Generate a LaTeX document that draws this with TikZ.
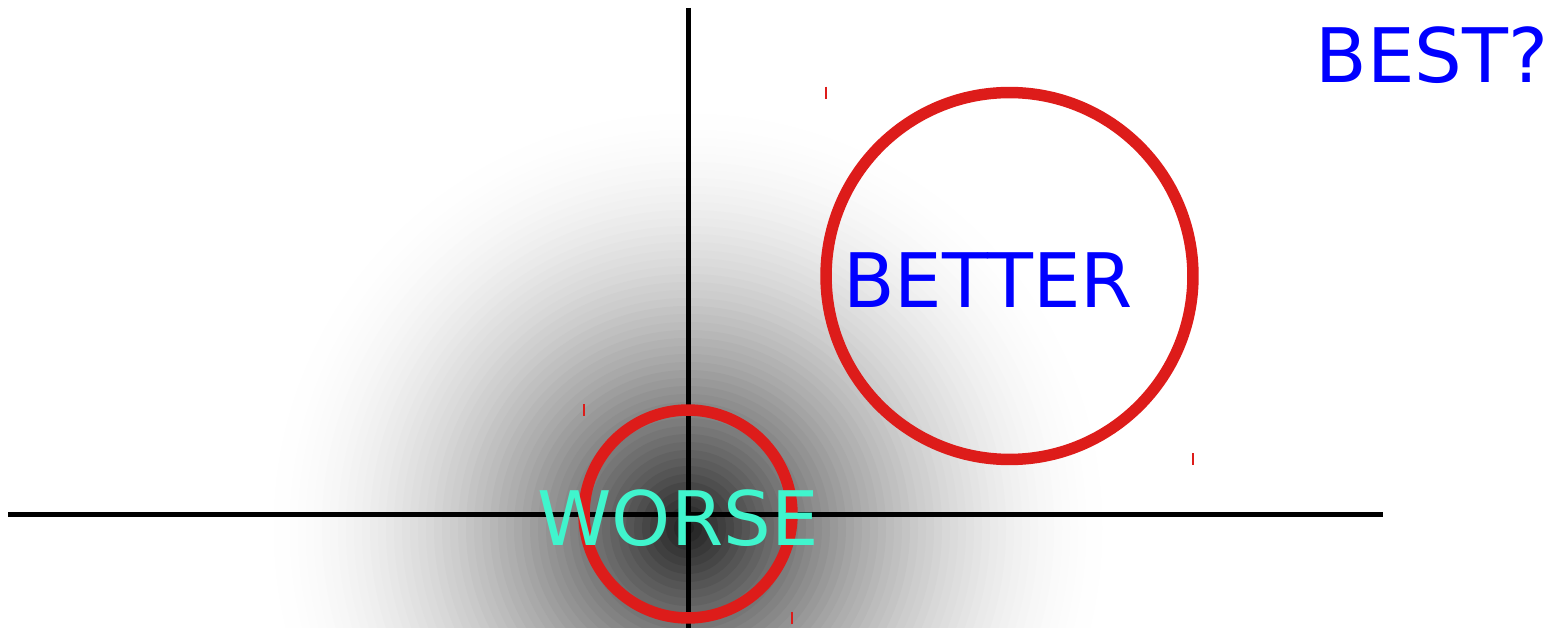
\documentclass[tikz,border=0pt]{standalone}
\usepackage{fontspec}
\setmainfont{DejaVu Sans}
\usetikzlibrary{positioning}

\definecolor{rossocerchio}{RGB}{221,28,26}
\definecolor{acquamarina}{RGB}{64,245,205}
\definecolor{blupuro}{RGB}{0,0,255}

\begin{document}
\begin{tikzpicture}[x=0.02cm, y=-0.02cm]
	% Stili comuni
	\tikzset{
		asse/.style={line width=0.1cm, black},
		cerchio/.style={
			circle,
			draw=rossocerchio,
			line width=0.23cm,
			inner sep=0pt,
			outer sep=0pt
		},
		etichetta/.style={
			inner sep=0pt,
			font=\fontsize{42.8}{50}\selectfont
		},
		segno/.style={draw=rossocerchio, line width=0.04cm}
	}
	
	% Riquadro della figura
	\useasboundingbox (0,0) rectangle (1549,628);
	
	% Nuvola grigia sfumata
	\begin{scope}
		\clip (0,0) rectangle (1549,628);
		\foreach \r in {430,422,...,6} {
			\pgfmathsetmacro\u{1-(\r-4)/430}
			\pgfmathsetmacro\g{88*\u^1.9}
			\fill[black!\g] (688,528) circle (\r);
		}
	\end{scope}
	
	% Assi
	\coordinate (origine) at (688,514);
	\coordinate (sinistra) at (8,514);
	\coordinate (destra) at (1383,514);
	\coordinate (alto) at (688,8);
	\coordinate (basso) at (688,630);
	\draw[asse] (sinistra) -- (destra);
	\draw[asse] (alto) -- (basso);
	
	% Cerchi rossi
	\node[cerchio, minimum size=7.34cm] (better) at (1009.5,276) {};
	\node[cerchio, minimum size=4.16cm] (worse) at (origine) {};
	
	% Segnetti agli angoli dei cerchi
	\draw[segno] (better.west |- better.north) ++(0,-6) -- ++(0,12);
	\draw[segno] (better.east |- better.south) ++(0,-6) -- ++(0,12);
	\draw[segno] (worse.west |- worse.north) ++(0,-6) -- ++(0,12);
	\draw[segno] (worse.east |- worse.south) ++(0,-6) -- ++(0,12);
	
	% Etichette
	\node[etichetta, text=blupuro] (bettertesto) at (988,280) {BETTER};
	\node[etichetta, text=acquamarina] (worsetesto) at (678,518) {WORSE};
	\node[etichetta, text=blupuro] (besttesto) at (1432,55) {BEST?};
\end{tikzpicture}
\end{document}
